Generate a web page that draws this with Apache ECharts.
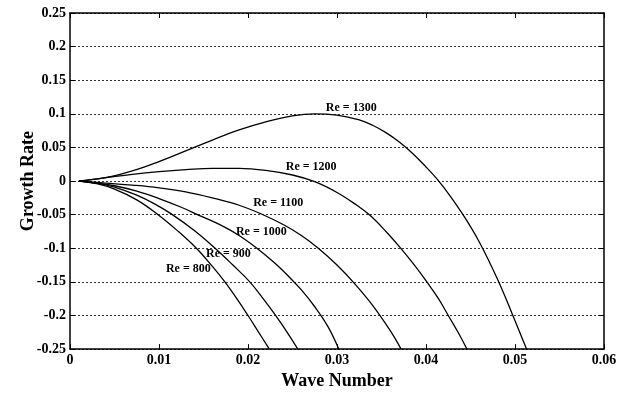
<!DOCTYPE html>
<html>
<head>
<meta charset="utf-8">
<script src="https://cdn.jsdelivr.net/npm/echarts@6/dist/echarts.min.js"></script>
<style>
html, body { margin: 0; padding: 0; background: #fff; }
#chart { width: 629px; height: 395px; }
</style>
</head>
<body>
<div id="chart"></div>
<script>
// growth rate vs wave number
var re800 = [[0.001,0],[0.003,-0.004],[0.005,-0.012],[0.0075,-0.028],[0.0099,-0.05],[0.012,-0.073],
	[0.0142,-0.1],[0.016,-0.127],[0.0174,-0.15],[0.0188,-0.176],[0.020,-0.2],[0.0212,-0.225],[0.0224,-0.25]];
var re900 = [[0.001,0],[0.003,-0.003],[0.005,-0.009],[0.0075,-0.021],[0.0095,-0.034],[0.0115,-0.05],
	[0.014,-0.074],[0.0163,-0.1],[0.0183,-0.125],[0.0202,-0.15],[0.0217,-0.175],[0.0231,-0.2],[0.0244,-0.225],[0.0256,-0.25]];
var re1000 = [[0.001,0],[0.003,-0.003],[0.005,-0.007],[0.0075,-0.015],[0.010,-0.026],[0.0125,-0.039],
	[0.0145,-0.051],[0.017,-0.066],[0.019,-0.081],[0.021,-0.1],[0.023,-0.122],[0.0245,-0.141],
	[0.026,-0.162],[0.0275,-0.187],[0.029,-0.217],[0.0302,-0.25]];
var re1100 = [[0.001,0],[0.004,-0.003],[0.007,-0.006],[0.010,-0.010],[0.013,-0.016],[0.016,-0.025],
	[0.019,-0.036],[0.0215,-0.049],[0.024,-0.065],[0.026,-0.081],[0.028,-0.101],[0.030,-0.125],
	[0.032,-0.153],[0.034,-0.185],[0.036,-0.223],[0.0372,-0.25]];
var re1200 = [[0.001,0],[0.004,0.005],[0.007,0.010],[0.010,0.014],[0.013,0.017],[0.016,0.019],
	[0.019,0.019],[0.022,0.016],[0.025,0.009],[0.0275,-0.001],[0.030,-0.017],[0.032,-0.034],
	[0.0337,-0.051],[0.0355,-0.075],[0.0371,-0.099],[0.0387,-0.125],[0.0401,-0.15],[0.0414,-0.175],
	[0.0425,-0.2],[0.0436,-0.225],[0.0446,-0.25]];
var re1300 = [[0.001,0],[0.004,0.005],[0.007,0.015],[0.010,0.029],[0.013,0.045],[0.016,0.061],
	[0.019,0.076],[0.022,0.088],[0.025,0.097],[0.0275,0.1],[0.030,0.098],[0.0325,0.091],[0.034,0.083],
	[0.0355,0.072],[0.037,0.058],[0.0385,0.041],[0.040,0.021],[0.0413,0.002],[0.0427,-0.022],
	[0.0443,-0.053],[0.046,-0.091],[0.048,-0.145],[0.0497,-0.198],[0.0513,-0.25]];
var curveNames = ['Re = 800', 'Re = 900', 'Re = 1000', 'Re = 1100', 'Re = 1200', 'Re = 1300'];
var curves = [re800, re900, re1000, re1100, re1200, re1300];

var chart = echarts.init(document.getElementById('chart'));

// where each "Re = ..." text sits, in data units
var labelAt = [[0.0133,-0.130],[0.0178,-0.109],[0.0215,-0.076],[0.0234,-0.032],[0.0271,0.021],[0.0316,0.109]];

function fmt(v) {
	return String(+v.toFixed(2));
}

var font = 'Liberation Serif';
var series = [];
for (var i = 0; i < curves.length; i++) {
	series.push({
		name: curveNames[i],
		type: 'line',
		data: curves[i],
		showSymbol: false,
		smooth: 0.4,
		lineStyle: { color: '#000', width: 1.3 },
		markPoint: {
			symbol: 'circle',
			symbolSize: 0,
			data: [{
				coord: labelAt[i],
				label: {
					show: true,
					position: 'inside',
					formatter: curveNames[i],
					color: '#000',
					fontFamily: font,
					fontWeight: 'bold',
					fontSize: 12
				}
			}]
		}
	});
}

var tickLabel = {
	color: '#000',
	fontFamily: font,
	fontWeight: 'bold',
	fontSize: 14,
	formatter: fmt
};

var option = {
	animation: false,
	backgroundColor: '#fff',
	grid: { left: 70, right: 25, top: 13, bottom: 38 },
	xAxis: [{
		type: 'value',
		min: 0, max: 0.06, interval: 0.01,
		name: 'Wave Number',
		nameLocation: 'middle',
		nameGap: 19,
		nameTextStyle: { color: '#000', fontFamily: font, fontWeight: 'bold', fontSize: 18 },
		axisLine: { onZero: false, lineStyle: { color: '#000', width: 1.5 } },
		axisTick: { inside: true, length: 5, lineStyle: { color: '#000' } },
		axisLabel: Object.assign({ margin: 4 }, tickLabel),
		splitLine: { show: false }
	}, {
		type: 'value', position: 'top',
		min: 0, max: 0.06, interval: 0.01,
		axisLine: { onZero: false, lineStyle: { color: '#000', width: 1.5 } },
		axisTick: { inside: true, length: 5, lineStyle: { color: '#000' } },
		axisLabel: { show: false },
		splitLine: { show: false }
	}],
	yAxis: [{
		type: 'value',
		min: -0.25, max: 0.25, interval: 0.05,
		name: 'Growth Rate',
		nameLocation: 'middle',
		nameGap: 33,
		nameMoveOverlap: false,
		nameTextStyle: { color: '#000', fontFamily: font, fontWeight: 'bold', fontSize: 18 },
		axisLine: { onZero: false, lineStyle: { color: '#000', width: 1.5 } },
		axisTick: { inside: true, length: 5, lineStyle: { color: '#000' } },
		axisLabel: Object.assign({ margin: 4 }, tickLabel),
		splitLine: { show: true, lineStyle: { color: '#333', width: 1, type: [2, 2] } }
	}, {
		type: 'value', position: 'right',
		min: -0.25, max: 0.25, interval: 0.05,
		axisLine: { onZero: false, lineStyle: { color: '#000', width: 1.5 } },
		axisTick: { inside: true, length: 5, lineStyle: { color: '#000' } },
		axisLabel: { show: false },
		splitLine: { show: false }
	}],
	series: series
};
chart.setOption(option);
</script>
</body>
</html>
